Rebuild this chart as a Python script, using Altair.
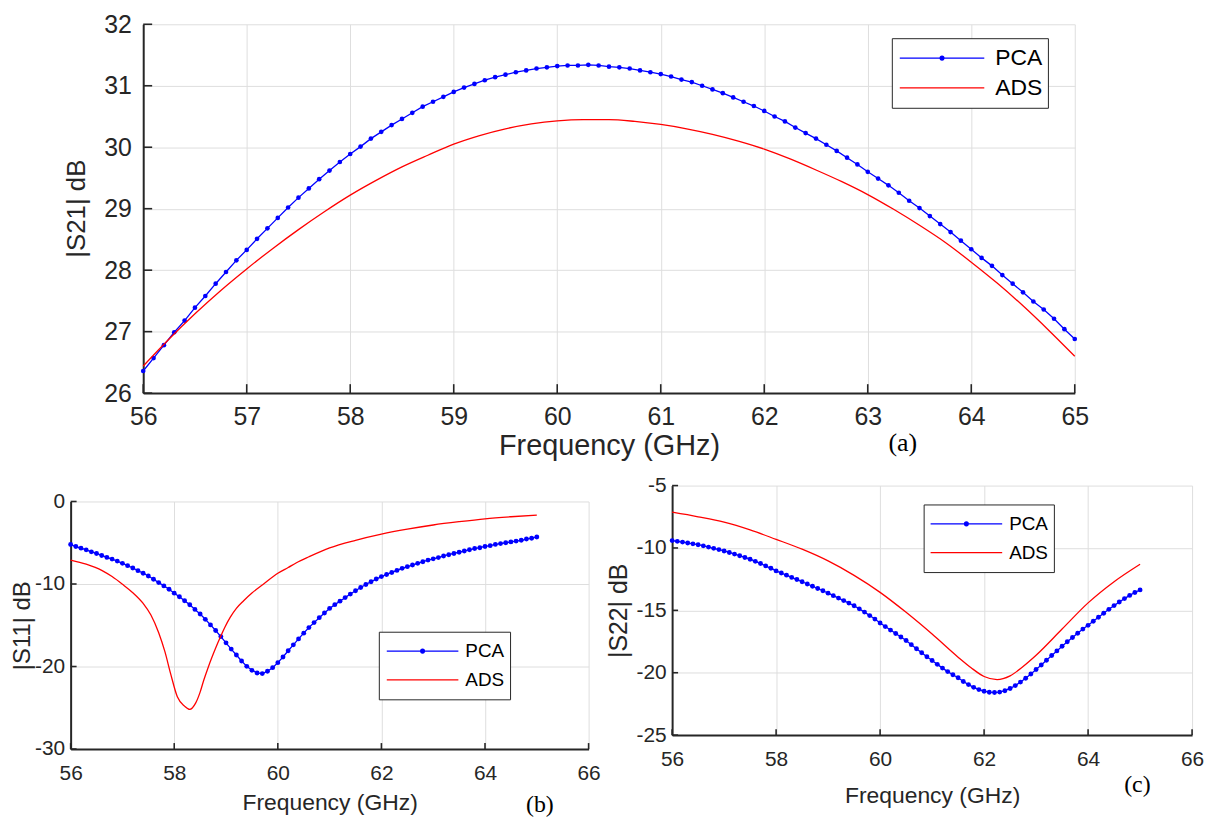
import altair as alt
import pandas as pd

# ---------------- data ----------------
FREQ = [round(56 + 0.1 * i, 1) for i in range(91)]

S21_PCA = [26.36, 26.57, 26.78, 26.99, 27.18, 27.39, 27.58, 27.78, 27.97, 28.16,
           28.33, 28.51, 28.68, 28.85, 29.02, 29.18, 29.33, 29.48, 29.62, 29.76,
           29.89, 30.01, 30.14, 30.25, 30.36, 30.46, 30.56, 30.66, 30.74, 30.82,
           30.90, 30.97, 31.03, 31.09, 31.14, 31.18, 31.22, 31.25, 31.28, 31.30,
           31.32, 31.33, 31.33, 31.34, 31.33, 31.31, 31.30, 31.28, 31.25, 31.22,
           31.19, 31.15, 31.10, 31.06, 31.00, 30.94, 30.88, 30.81, 30.74, 30.67,
           30.59, 30.50, 30.42, 30.32, 30.23, 30.14, 30.04, 29.94, 29.83, 29.72,
           29.60, 29.49, 29.38, 29.26, 29.13, 29.01, 28.88, 28.75, 28.62, 28.48,
           28.34, 28.20, 28.07, 27.92, 27.78, 27.64, 27.49, 27.36, 27.21, 27.04,
           26.88]
S21_ADS_F = [56.0, 56.25, 56.5, 56.75, 57.0, 57.25, 57.5, 57.75, 58.0, 58.25,
             58.5, 58.75, 59.0, 59.25, 59.5, 59.75, 60.0, 60.25, 60.5, 60.75,
             61.0, 61.25, 61.5, 61.75, 62.0, 62.25, 62.5, 62.75, 63.0, 63.25,
             63.5, 63.75, 64.0, 64.25, 64.5, 64.75, 65.0]
S21_ADS = [26.44, 26.88, 27.29, 27.67, 28.02, 28.35, 28.66, 28.95, 29.22, 29.46,
           29.68, 29.87, 30.05, 30.19, 30.30, 30.38, 30.43, 30.45, 30.45, 30.42,
           30.37, 30.30, 30.21, 30.10, 29.97, 29.81, 29.63, 29.44, 29.23, 28.99,
           28.73, 28.45, 28.13, 27.79, 27.42, 27.02, 26.60]

S11_PCA = [-5.21, -5.46, -5.66, -5.86, -6.10, -6.30, -6.54, -6.78, -6.98, -7.22,
           -7.50, -7.78, -8.06, -8.38, -8.70, -9.03, -9.43, -9.83, -10.23, -10.63,
           -11.11, -11.55, -12.03, -12.51, -13.08, -13.64, -14.28, -14.96, -15.64, -16.37,
           -17.13, -17.89, -18.61, -19.33, -19.98, -20.46, -20.78, -20.86, -20.58, -20.14,
           -19.53, -18.85, -18.09, -17.37, -16.65, -15.96, -15.28, -14.68, -14.08, -13.52,
           -12.96, -12.50, -12.08, -11.65, -11.22, -10.82, -10.42, -10.06, -9.72, -9.40,
           -9.10, -8.85, -8.60, -8.35, -8.10, -7.90, -7.70, -7.50, -7.30, -7.10,
           -6.95, -6.80, -6.60, -6.45, -6.30, -6.15, -6.00, -5.85, -5.70, -5.60,
           -5.45, -5.35, -5.20, -5.10, -5.00, -4.90, -4.80, -4.70, -4.55, -4.45,
           -4.30]
S11_ADS_F = [56.0, 56.3, 56.6, 56.8, 57.0, 57.2, 57.4, 57.55, 57.7, 57.82,
             57.93, 58.06, 58.2, 58.3, 58.41, 58.5, 58.57, 58.65, 58.73, 58.81,
             58.89, 58.98, 59.08, 59.2, 59.34, 59.5, 59.72, 60.0, 60.2, 60.36,
             60.6, 61.0, 61.5, 62.0, 62.5, 63.0, 63.5, 64.0, 64.5, 65.0]
S11_ADS = [-7.10, -7.60, -8.34, -9.10, -10.03, -11.05, -12.35, -13.75, -15.90, -18.20,
           -20.86, -23.67, -24.80, -25.19, -24.47, -23.10, -21.66, -20.20, -18.85, -17.60,
           -16.45, -15.20, -14.04, -12.95, -12.03, -11.10, -10.03, -8.70, -8.00, -7.42,
           -6.70, -5.62, -4.70, -3.95, -3.35, -2.85, -2.45, -2.10, -1.85, -1.65]

S22_PCA = [-9.41, -9.47, -9.53, -9.60, -9.67, -9.74, -9.83, -9.93, -10.03, -10.13,
           -10.24, -10.36, -10.49, -10.62, -10.76, -10.90, -11.07, -11.25, -11.44, -11.63,
           -11.84, -12.01, -12.18, -12.36, -12.53, -12.71, -12.89, -13.07, -13.25, -13.43,
           -13.62, -13.82, -14.02, -14.22, -14.42, -14.63, -14.88, -15.14, -15.42, -15.70,
           -16.01, -16.30, -16.58, -16.86, -17.14, -17.42, -17.75, -18.08, -18.40, -18.72,
           -19.02, -19.33, -19.63, -19.91, -20.16, -20.40, -20.70, -20.95, -21.17, -21.35,
           -21.48, -21.56, -21.58, -21.55, -21.44, -21.26, -21.03, -20.75, -20.44, -20.10,
           -19.74, -19.38, -19.00, -18.62, -18.25, -17.88, -17.52, -17.18, -16.84, -16.50,
           -16.20, -15.87, -15.55, -15.23, -14.92, -14.62, -14.33, -14.06, -13.80, -13.57,
           -13.36]
S22_ADS_F = [56.0, 56.5, 57.0, 57.5, 58.0, 58.5, 59.0, 59.5, 60.0, 60.5,
             61.0, 61.5, 61.75, 62.0, 62.25, 62.5, 62.75, 63.0, 63.5, 64.0,
             64.5, 65.0]
S22_ADS = [-7.13, -7.50, -7.93, -8.55, -9.31, -10.10, -11.04, -12.20, -13.56, -15.16,
           -16.90, -18.75, -19.60, -20.30, -20.55, -20.25, -19.50, -18.60, -16.50, -14.40,
           -12.70, -11.30]

SERIES = ["PCA", "ADS"]
COLORS = ["#0000ff", "#ff0000"]

X_TICKS_A = [56, 57, 58, 59, 60, 61, 62, 63, 64, 65]
Y_TICKS_A = [26, 27, 28, 29, 30, 31, 32]
X_TICKS_BC = [56, 58, 60, 62, 64, 66]
Y_TICKS_B = [-30, -20, -10, 0]
Y_TICKS_C = [-25, -20, -15, -10, -5]

# ---------------- style ----------------
AX = "#262626"
GRID = "#dedede"
FONT = "Liberation Sans"
LABEL_EXPR = "'' + datum.value"


def dot_path(r1, r2):
    def circ(r):
        return f"M{-r},0A{r},{r},0,1,1,{r},0A{r},{r},0,1,1,{-r},0"
    return "M-1,0L1,0" + circ(r1) + circ(r2)


def make_panel(pca_vals, ads_f, ads_vals, xdom, xticks, ydom, yticks, ytitle, st):
    xscale = alt.Scale(domain=xdom, nice=False, zero=False)
    yscale = alt.Scale(domain=ydom, nice=False, zero=False)
    xaxis = alt.Axis(values=xticks, title="Frequency (GHz)", labelExpr=LABEL_EXPR, grid=True,
                     gridColor=GRID, gridWidth=1, ticks=False, tickSize=0,
                     domainColor=AX, domainWidth=st["dw"], labelFont=FONT,
                     labelFontSize=st["lfs"], labelColor=AX, labelPadding=st["xlp"],
                     labelFlush=False, labelOverlap=False, titleFont=FONT,
                     titleFontSize=st["xtfs"], titleFontWeight="normal", titleColor=AX,
                     titlePadding=st["xtp"])
    yaxis_kw = dict(values=yticks, labelExpr=LABEL_EXPR, grid=True,
                    gridColor=GRID, gridWidth=1, ticks=False, tickSize=0,
                    domainColor=AX, domainWidth=st["dw"], labelFont=FONT,
                    labelFontSize=st["lfs"], labelColor=AX, labelPadding=st["ylp"],
                    labelFlush=False, labelOverlap=False)
    if ytitle is None:
        yaxis = alt.Axis(title=None, **yaxis_kw)
    else:
        yaxis = alt.Axis(title=ytitle, titleFont=FONT, titleFontSize=st["ytfs"],
                         titleFontWeight="normal", titleColor=AX,
                         titlePadding=st["ytp"], **yaxis_kw)

    pca_df = pd.DataFrame({"f": FREQ, "v": pca_vals, "series": "PCA"})
    ads_df = pd.DataFrame({"f": ads_f, "v": ads_vals})
    xt_df = pd.DataFrame({"t": xticks})
    yt_df = pd.DataFrame({"t": yticks})

    X = alt.X("f:Q", scale=xscale, axis=xaxis)
    Y = alt.Y("v:Q", scale=yscale, axis=yaxis)

    pca_line = alt.Chart(pca_df).mark_line(color=COLORS[0], strokeWidth=1.3).encode(x=X, y=Y)
    pca_pts = alt.Chart(pca_df).mark_circle(color=COLORS[0], size=st["dot"], opacity=1).encode(x=X, y=Y)
    ads_line = alt.Chart(ads_df).mark_line(color=COLORS[1], strokeWidth=1.3,
                                           interpolate="monotone").encode(x=X, y=Y)

    xt = alt.Chart(xt_df).mark_rule(color=AX, strokeWidth=1.6).encode(
        x=alt.X("t:Q", scale=xscale, axis=xaxis),
        y=alt.value(st["H"]), y2=alt.value(st["H"] - st["tick"]))
    yt = alt.Chart(yt_df).mark_rule(color=AX, strokeWidth=1.6).encode(
        y=alt.Y("t:Q", scale=yscale, axis=yaxis),
        x=alt.value(0), x2=alt.value(st["tick"]))

    legend = alt.Legend(orient="none", legendX=st["lx"], legendY=st["ly"], title=None,
                        padding=st["lpad"], strokeColor=AX, fillColor="white",
                        cornerRadius=0, labelFont=FONT, labelFontSize=st["lgfs"],
                        labelColor="black", symbolSize=st["sym"], symbolStrokeWidth=1.3,
                        clipHeight=st["clip"], rowPadding=st["rowpad"],
                        symbolOffset=st["soff"], labelOffset=st["loff"])
    leg = alt.Chart(pca_df).transform_filter("false").mark_point(
        filled=False, opacity=1, strokeWidth=1.3, size=st["sym"]).encode(
        x=X, y=Y,
        color=alt.Color("series:N", scale=alt.Scale(domain=SERIES, range=COLORS), legend=legend),
        shape=alt.Shape("series:N", scale=alt.Scale(domain=SERIES, range=[dot_path(st["r1"], st["r2"]), "M-1,0L1,0"]), legend=legend))

    cap = alt.Chart(pd.DataFrame({"c": [st["cap"]]})).mark_text(
        font="Liberation Serif", fontSize=st["capfs"], color="black").encode(
        text="c:N", x=alt.value(st["capx"]), y=alt.value(st["capy"]))

    return alt.layer(pca_line, pca_pts, ads_line, xt, yt, leg, cap).properties(
        width=st["W"], height=st["H"])


def spacer(w, h):
    return alt.Chart(pd.DataFrame({"s": [0]})).mark_point(opacity=0, size=1).encode(
        x=alt.X("s:Q", axis=None), y=alt.Y("s:Q", axis=None)).properties(width=w, height=h)


def side_title(text, w, h, x, fs):
    return alt.Chart(pd.DataFrame({"c": [text]})).mark_text(
        font=FONT, fontSize=fs, color=AX, angle=270, baseline="middle", align="center").encode(
        text="c:N", x=alt.value(x), y=alt.value(h / 2)).properties(width=w, height=h)


def indep(ch):
    return ch.resolve_scale(color="independent", shape="independent").resolve_legend(
        color="independent", shape="independent")


ST_A = dict(W=937, H=371, dw=2, lfs=25, xtfs=29, ytfs=26, xlp=12, xtp=2, ylp=12, ytp=12,
            tick=9, dot=22, sym=7225, r1=0.045, r2=0.016, lx=753, ly=14, lpad=5, clip=30,
            rowpad=0, soff=2, loff=10, lgfs=23, cap="(a)", capx=764, capy=421, capfs=26)
ST_B = dict(W=521, H=249, dw=2, lfs=21, xtfs=23, ytfs=24, xlp=14, xtp=8, ylp=6, ytp=0,
            tick=6, dot=24, sym=5184, r1=0.053, r2=0.02, lx=310, ly=131, lpad=5, clip=29,
            rowpad=0, soff=2, loff=6, lgfs=19, cap="(b)", capx=472, capy=305, capfs=24)
ST_C = dict(W=523, H=251, dw=2, lfs=21, xtfs=23, ytfs=25, xlp=14, xtp=15, ylp=6, ytp=5,
            tick=6, dot=24, sym=5184, r1=0.053, r2=0.02, lx=253, ly=19, lpad=5, clip=29,
            rowpad=0, soff=1, loff=6, lgfs=19, cap="(c)", capx=468, capy=301, capfs=24)

pa = make_panel(S21_PCA, S21_ADS_F, S21_ADS, [56, 65], X_TICKS_A, [26, 32], Y_TICKS_A,
                None, ST_A)
pb = make_panel(S11_PCA, S11_ADS_F, S11_ADS, [56, 66], X_TICKS_BC, [-30, 0], Y_TICKS_B,
                "|S11| dB", ST_B)
pc = make_panel(S22_PCA, S22_ADS_F, S22_ADS, [56, 66], X_TICKS_BC, [-25, -5], Y_TICKS_C,
                "|S22| dB", ST_C)

top = indep(alt.hconcat(side_title("|S21| dB", 33, ST_A["H"], 6, ST_A["ytfs"]), pa, spacing=0))
bcol = indep(alt.vconcat(spacer(10, 5), pb, spacing=0))
bottom = indep(alt.hconcat(bcol, pc, spacing=5))

chart = indep(alt.vconcat(top, bottom, spacing=14)).properties(
    padding={"left": 2, "top": 2, "right": 0, "bottom": 0}, background="white"
).configure_view(stroke=None)

chart.save("out.html", embed_options={"renderer": "svg", "actions": False})
